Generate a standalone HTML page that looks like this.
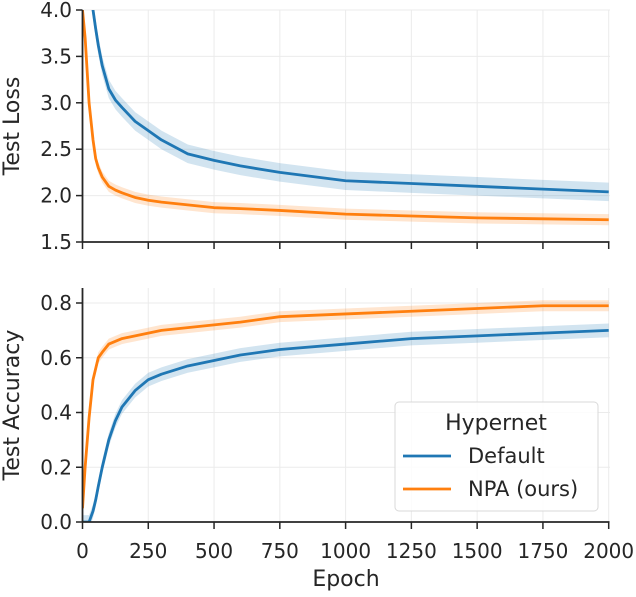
<!DOCTYPE html>
<html><head><meta charset="utf-8"><style>
html,body{margin:0;padding:0;background:#fff}
svg text{font-family:"DejaVu Sans","Liberation Sans",sans-serif;fill:#262626}
</style></head><body>
<svg id="chart" width="636" height="592" viewBox="0 0 636 592" xmlns="http://www.w3.org/2000/svg">
<defs>
<clipPath id="c1"><rect x="83" y="10" width="527" height="232"/></clipPath>
<clipPath id="c2"><rect x="83" y="280" width="527" height="242"/></clipPath>
</defs>
<g id="g"></g>
</svg>
<script>
const epochs=[0,10,25,40,50,60,75,100,125,150,200,250,300,400,500,600,750,1000,1250,1500,1750,2000];
const lossDefault=[5.5,5.0,4.3,4.0,3.8,3.62,3.4,3.15,3.03,2.95,2.8,2.7,2.6,2.45,2.38,2.32,2.25,2.16,2.13,2.1,2.07,2.04];
const lossNPA=[4.0,3.7,3.0,2.6,2.4,2.3,2.2,2.1,2.06,2.03,1.98,1.95,1.93,1.9,1.87,1.86,1.84,1.8,1.78,1.76,1.75,1.74];
const accDefault=[0.0,0.0,0.0,0.04,0.08,0.13,0.2,0.3,0.37,0.42,0.48,0.52,0.54,0.57,0.59,0.61,0.63,0.65,0.67,0.68,0.69,0.70];
const accNPA=[0.05,0.2,0.38,0.52,0.56,0.6,0.62,0.65,0.66,0.67,0.68,0.69,0.7,0.71,0.72,0.73,0.75,0.76,0.77,0.78,0.79,0.79];
const lossTicks=[1.5,2.0,2.5,3.0,3.5,4.0];
const accTicks=[0.0,0.2,0.4,0.6,0.8];
const xTicks=[0,250,500,750,1000,1250,1500,1750,2000];

const NS="http://www.w3.org/2000/svg";
const g=document.getElementById('g');
function mk(tag,attrs,parent){const e=document.createElementNS(NS,tag);for(const k in attrs)e.setAttribute(k,attrs[k]);(parent||g).appendChild(e);return e;}
const X=v=>82.5+v*(608.7-82.5)/2000;
const Y1=v=>242-(v-1.5)*(232/2.5);
const Y2=v=>522-v*(219/0.8);
const BLUE="#1f77b4",ORANGE="#ff7f0e";

function panel(Y,ticks,yTop,yBot,fmt,clip,series,label,name){
  for(const t of xTicks){const l=mk('line',{x1:X(t),x2:X(t),y1:yTop,y2:yBot,stroke:'#ebebeb','stroke-width':1});
    }
  for(const t of ticks){const l=mk('line',{x1:82.5,x2:610,y1:Y(t),y2:Y(t),stroke:'#ebebeb','stroke-width':1});
    }
  const cg=mk('g',{'clip-path':'url(#'+clip+')'});
  
  for(const s of series){
    const band=s.band;
    let up='',dn='';
    s.vals.forEach((v,i)=>{up+=(i?'L':'M')+X(epochs[i])+','+Y(v+band);});
    for(let i=s.vals.length-1;i>=0;i--)dn+='L'+X(epochs[i])+','+Y(s.vals[i]-band);
    const b=mk('path',{d:up+dn+'Z',fill:s.color,'fill-opacity':0.2,stroke:'none'},cg);
    
    let d='';s.vals.forEach((v,i)=>{d+=(i?'L':'M')+X(epochs[i])+','+Y(v);});
    const p=mk('path',{d:d,fill:'none',stroke:s.color,'stroke-width':2.8,'stroke-linejoin':'round'},cg);
    
  }
  const ya=mk('line',{x1:82.5,x2:82.5,y1:yTop,y2:yBot,stroke:'#262626','stroke-width':1.8});
  
  const xa=mk('line',{x1:82.5,x2:609.5,y1:yBot,y2:yBot,stroke:'#262626','stroke-width':1.8});
  
  for(const t of ticks){
    const tk=mk('line',{x1:76,x2:82.5,y1:Y(t),y2:Y(t),stroke:'#262626','stroke-width':1.5});
    
    const tx=mk('text',{x:72,y:Y(t)+7,'text-anchor':'end','font-size':20});tx.textContent=fmt(t);
    
  }
  for(const t of xTicks){
    const tk=mk('line',{x1:X(t),x2:X(t),y1:yBot,y2:yBot+7,stroke:'#262626','stroke-width':1.5});
    
  }
  const yl=mk('text',{x:0,y:0,'text-anchor':'middle','font-size':22,transform:'translate(19,'+((yTop+yBot)/2)+') rotate(-90)'});
  yl.textContent=label;
}
panel(Y1,lossTicks,10,242,t=>t.toFixed(1),'c1',[{key:'default',vals:lossDefault,color:BLUE,band:0.1},{key:'npa',vals:lossNPA,color:ORANGE,band:0.06}],'Test Loss','loss');
panel(Y2,accTicks,288,522,t=>t.toFixed(1),'c2',[{key:'default',vals:accDefault,color:BLUE,band:0.025},{key:'npa',vals:accNPA,color:ORANGE,band:0.02}],'Test Accuracy','accuracy');
for(const t of xTicks){
  const tx=mk('text',{x:X(t),y:558,'text-anchor':'middle','font-size':20});tx.textContent=t;
  
}
const xl=mk('text',{x:346,y:586,'text-anchor':'middle','font-size':22});xl.textContent='Epoch';

const lg=mk('g',{});

const box=mk('rect',{x:395,y:402,width:203,height:109,rx:4,fill:'#fff','fill-opacity':0.85,stroke:'#d9d9d9','stroke-width':1},lg);

const lt=mk('text',{x:496,y:430,'text-anchor':'middle','font-size':22},lg);lt.textContent='Hypernet';

[['Default',BLUE,456],['NPA (ours)',ORANGE,489]].forEach(([n,c,y])=>{
  const e=mk('g',{},lg);
  
  mk('line',{x1:403,x2:451,y1:y,y2:y,stroke:c,'stroke-width':2.8},e);
  const t=mk('text',{x:468,y:y+7,'font-size':21},e);t.textContent=n;
});
</script>
</body></html>
